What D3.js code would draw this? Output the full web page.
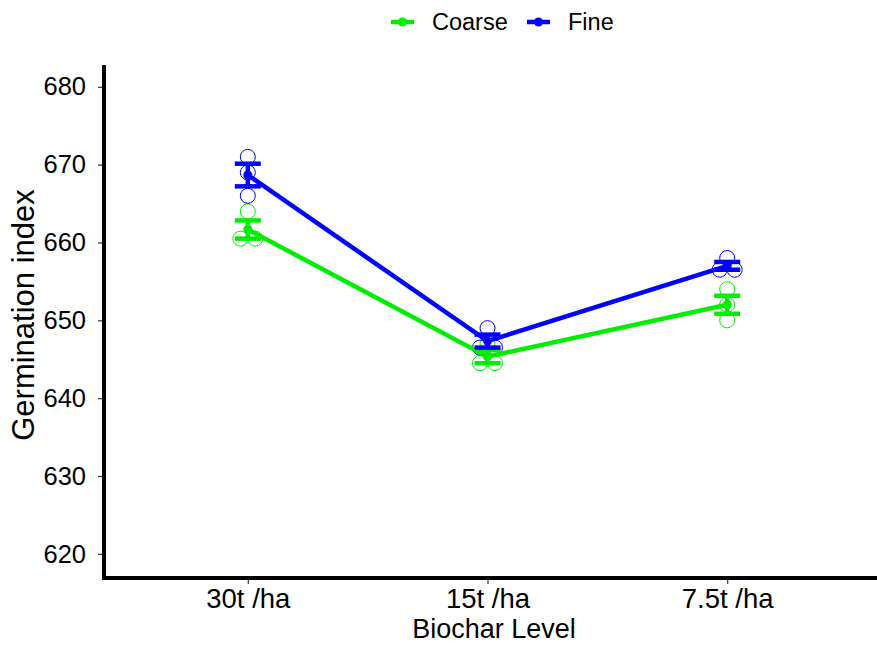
<!DOCTYPE html>
<html><head><meta charset="utf-8">
<script src="https://cdn.jsdelivr.net/npm/d3@7"></script>
<style>body{margin:0;background:#fff}svg{font-family:Arial,"Liberation Sans",sans-serif}</style>
</head><body>
<svg id="c" width="877" height="645"></svg>
<script>
const categories = ["30t /ha", "15t /ha", "7.5t /ha"];
const seriesNames = ["Coarse", "Fine"];
const seriesColors = ["#00ee00", "#0000ff"];
const coarseReps = [[664, 660.5, 660.5], [647, 644.5, 644.5], [654, 652, 650]];
const fineReps = [[671, 669, 666], [649, 646.5, 646.5], [658, 656.5, 656.5]];
const yTicks = [620, 630, 640, 650, 660, 670, 680];

const FONT = "Arial, 'Liberation Sans', sans-serif";
const svg = d3.select("#c");
const m = {l: 104, r: 877, t: 65, b: 578};
const x = d3.scalePoint().domain(categories).range([m.l, m.r - 6]).padding(0.6);
const y = d3.scaleLinear().domain([616.9, 682.8]).range([m.b, m.t]);

function stats(a){const n=a.length, mean=d3.mean(a), sd=d3.deviation(a); return {mean, se: sd/Math.sqrt(n)};}
const series = [coarseReps, fineReps].map((reps, si) => ({
  name: seriesNames[si], color: seriesColors[si],
  reps, st: reps.map(stats)
}));

// raw points (spread duplicates horizontally)
series.forEach(s => {
  s.reps.forEach((vals, ci) => {
    const counts = {};
    vals.forEach(v => counts[v] = (counts[v]||0) + 1);
    const seen = {};
    vals.forEach(v => {
      const k = seen[v] = (seen[v]||0) + 1;
      const n = counts[v];
      const off = (k - (n + 1) / 2) * 15;
      svg.append("circle").attr("cx", x(categories[ci]) + off).attr("cy", y(v)).attr("r", 7.5)
        .attr("fill", "none").attr("stroke", s.color).attr("stroke-width", 1);
    });
  });
});

// lines
series.forEach(s => {
  svg.append("path").datum(s.st)
    .attr("d", d3.line().x((d,i)=>x(categories[i])).y(d=>y(d.mean)))
    .attr("fill","none").attr("stroke", s.color).attr("stroke-width", 4.5);
});
// error bars + mean points
series.forEach(s => {
  s.st.forEach((d, i) => {
    const cx = x(categories[i]);
    const g = svg.append("g").attr("stroke", s.color).attr("stroke-width", 4.5);
    g.append("line").attr("x1",cx).attr("x2",cx).attr("y1",y(d.mean-d.se)).attr("y2",y(d.mean+d.se));
    [d.mean-d.se, d.mean+d.se].forEach(v => g.append("line").attr("x1",cx-13).attr("x2",cx+13).attr("y1",y(v)).attr("y2",y(v)));
    svg.append("circle").attr("cx",cx).attr("cy",y(d.mean)).attr("r",4.5).attr("fill",s.color);
  });
});

// axes
const ya = svg.append("g").attr("transform",`translate(${m.l},0)`)
  .call(d3.axisLeft(y).tickValues(yTicks).tickSize(6).tickPadding(12));
ya.select(".domain").remove();
ya.selectAll("text").attr("font-size", 25.5).attr("fill","#000").attr("font-family",FONT);
ya.selectAll("line").attr("stroke","#333").attr("stroke-width",1.2);
const xa = svg.append("g").attr("transform",`translate(0,${m.b})`)
  .call(d3.axisBottom(x).tickSize(6).tickPadding(4));
xa.select(".domain").remove();
xa.selectAll("text").attr("font-size", 27.5).attr("fill","#000").attr("font-family",FONT);
xa.selectAll("line").attr("stroke","#333").attr("stroke-width",1.2);

svg.append("path").attr("d", `M${m.l},${m.t} V${m.b} H${m.r}`).attr("fill","none").attr("stroke","#000").attr("stroke-width",4);

svg.append("text").attr("x", 494).attr("y", 638).attr("text-anchor","middle").attr("font-size",27).text("Biochar Level");
svg.append("text").attr("transform","translate(34,315) rotate(-90)").attr("text-anchor","middle").attr("font-size",31).text("Germination index");

// legend
const leg = [{x:391},{x:527}];
series.forEach((s,i) => {
  const lx = leg[i].x;
  svg.append("line").attr("x1",lx).attr("x2",lx+23).attr("y1",22).attr("y2",22).attr("stroke",s.color).attr("stroke-width",4.5);
  svg.append("circle").attr("cx",lx+11.5).attr("cy",22).attr("r",4.5).attr("fill",s.color);
  svg.append("text").attr("x",lx+41).attr("y",30).attr("font-size",23.5).text(s.name);
});
</script>
</body></html>
